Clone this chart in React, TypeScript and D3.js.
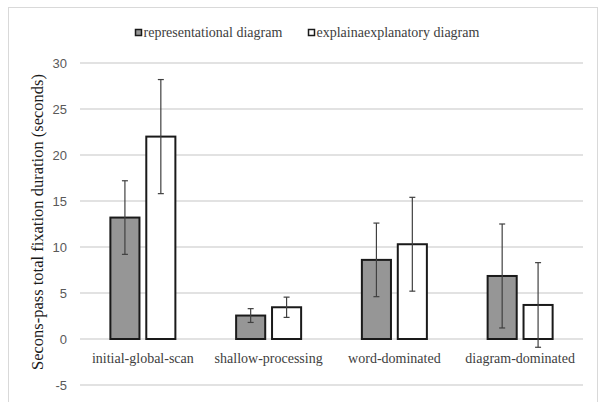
import React from "react";
import * as d3 from "d3";

const categories = ["initial-global-scan", "shallow-processing", "word-dominated", "diagram-dominated"];
const seriesNames = ["representational diagram", "explainaexplanatory diagram"];
const representational = [13.2, 2.55, 8.6, 6.85];
const representationalErr = [4.0, 0.75, 4.0, 5.65];
const explanatory = [22.0, 3.45, 10.3, 3.7];
const explanatoryErr = [6.2, 1.1, 5.1, 4.6];
const yTicks = [-5, 0, 5, 10, 15, 20, 25, 30];
const yTitle = "Secons-pass total fixation duration (seconds)";

const fills = ["#969696", "#ffffff"];

export default function App() {
  const W = 602, H = 402;
  const left = 80, right = 583, top = 63, bottom = 385;
  const y = d3.scaleLinear().domain([-5, 30]).range([bottom, top]);
  const x0 = d3.scaleBand<string>().domain(categories).range([left, right]).padding(0);
  const bw = x0.bandwidth();
  const x1 = d3.scaleBand<string>().domain(seriesNames)
    .range([(bw - 65) / 2, (bw + 65) / 2]).paddingInner(0.19).paddingOuter(0);
  const vals = [representational, explanatory];
  const errs = [representationalErr, explanatoryErr];
  const serif = "Liberation Serif";
  const sans = "Liberation Sans";
  const legendX = [135, 308];

  return (
    <svg width={W} height={H} style={{ position: "absolute", left: 0, top: 0, background: "#fff" }}>
      <rect x={8.5} y={7.5} width={589} height={400} fill="#fff" stroke="#d9d9d9" strokeWidth={1} />
      {yTicks.map((t) => (
        <g key={t}>
          <line x1={left} x2={right} y1={y(t)} y2={y(t)} stroke="#d9d9d9" strokeWidth={1.3} />
          <text x={67} y={y(t)} dy="0.35em" textAnchor="end" fontFamily={sans} fontSize={13} fill="#595959">{t}</text>
        </g>
      ))}
      {categories.map((c, i) => (
        <g key={c} transform={`translate(${x0(c)},0)`}>
          {seriesNames.map((s, j) => {
            const v = vals[j][i];
            const e = errs[j][i];
            const bx = x1(s)!;
            const w = x1.bandwidth();
            const cx = bx + w / 2;
            return (
              <g key={s}>
                <rect x={bx} y={y(Math.max(v, 0))} width={w} height={Math.abs(y(v) - y(0))}
                  fill={fills[j]} stroke="#1a1a1a" strokeWidth={2} />
                <line x1={cx} x2={cx} y1={y(v + e)} y2={y(v - e)} stroke="#404040" strokeWidth={1.2} />
                <line x1={cx - 3} x2={cx + 3} y1={y(v + e)} y2={y(v + e)} stroke="#404040" strokeWidth={1.2} />
                <line x1={cx - 3} x2={cx + 3} y1={y(v - e)} y2={y(v - e)} stroke="#404040" strokeWidth={1.2} />
              </g>
            );
          })}
          <text x={bw / 2} y={358} dy="0.35em" textAnchor="middle" fontFamily={serif} fontSize={14} fill="#404040">{c}</text>
        </g>
      ))}
      <text transform={`translate(37,222) rotate(-90)`} textAnchor="middle" dy="0.35em"
        fontFamily={serif} fontSize={16.5} fill="#1a1a1a">{yTitle}</text>
      {seriesNames.map((s, j) => (
        <g key={s}>
          <rect x={legendX[j] + 0.5} y={29.5} width={6} height={6} fill={fills[j]} stroke="#1a1a1a" strokeWidth={1.5} />
          <text x={legendX[j] + 8.5} y={32.5} dy="0.35em" fontFamily={serif} fontSize={14} fill="#404040">{s}</text>
        </g>
      ))}
    </svg>
  );
}
